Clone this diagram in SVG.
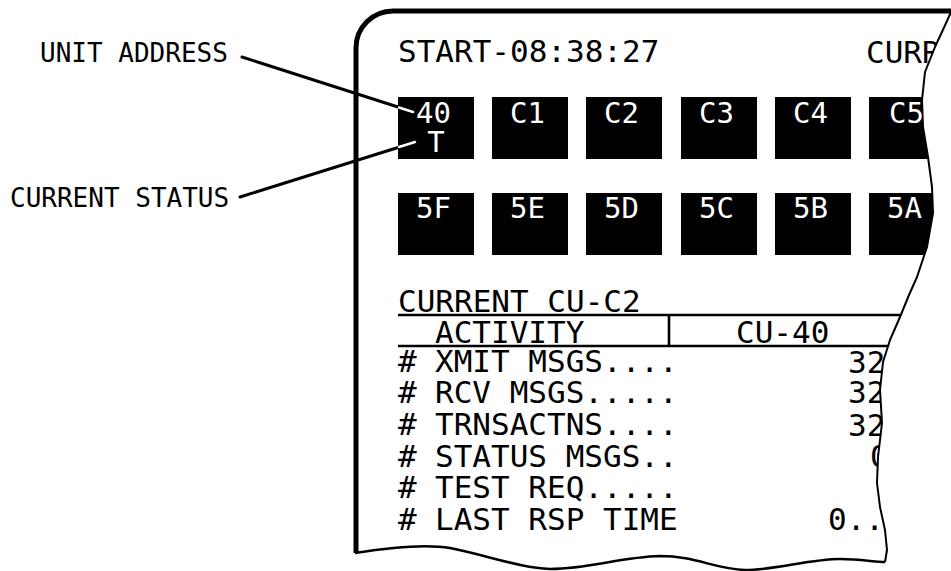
<svg xmlns="http://www.w3.org/2000/svg" width="951" height="571" viewBox="0 0 951 571">
<style>
.mono{font-family:"DejaVu Sans Mono","Liberation Mono",monospace;}
.scr{font-size:31px;fill:#000;}
.lbl{font-size:26px;fill:#000;}
.bx{fill:#000;}
.bt{font-size:29px;fill:#fff;}
.tl{stroke:#000;stroke-width:2.6;fill:none;}
.ld{stroke:#000;stroke-width:3;fill:none;stroke-linecap:round;}
.ldw{stroke:#fff;stroke-width:2.5;fill:none;stroke-linecap:round;}
</style>
<defs>
<clipPath id="tear">
<path d="M0,0 H951 V12 L947,21 L935,47 L925,72 L922,100 L923,127 L928,157 L932,187 L933,213 L927,247 L917,277 L909,295 L900,317 L890,340 L883,362 L880,390 L882,423 L878,457 L877,483 L880,507 L885,530 L887,550 L885,562 L885,571 H0 Z"/>
</clipPath>
</defs>
<rect width="951" height="571" fill="#fff"/>
<g id="frame">
<path d="M356,553 V48 A37,37 0 0 1 393,11 H951" fill="none" stroke="#000" stroke-width="5"/>
<path d="M355,553 C380,549 420,543 450,548 C490,556 520,568 550,569 C590,569 620,557 660,556 C695,556 715,569 745,570 C775,570 810,559 840,559 C860,559 875,562 885,562" fill="none" stroke="#000" stroke-width="2.5"/>
<path d="M951,12 L947,21 L935,47 L925,72 L922,100 L923,127 L928,157 L932,187 L933,213 L927,247 L917,277 L909,295 L900,317 L890,340 L883,362 L880,390 L882,423 L878,457 L877,483 L880,507 L885,530 L887,550 L885,562" fill="none" stroke="#000" stroke-width="2" stroke-linejoin="round"/>
</g>
<g id="screen" clip-path="url(#tear)">
<text class="mono scr" x="398" y="62">START-08:38:27</text>
<text class="mono scr" x="866" y="63">CURR</text>
<g id="unit-40"><rect class="bx" x="398" y="97" width="76" height="62"/><text class="mono bt" x="416" y="123">40</text><text class="mono bt" x="436" y="152" text-anchor="middle">T</text></g>
<g id="unit-C1"><rect class="bx" x="492" y="97" width="76" height="62"/><text class="mono bt" x="510" y="123">C1</text></g>
<g id="unit-C2"><rect class="bx" x="586" y="97" width="76" height="62"/><text class="mono bt" x="604" y="123">C2</text></g>
<g id="unit-C3"><rect class="bx" x="681" y="97" width="76" height="62"/><text class="mono bt" x="699" y="123">C3</text></g>
<g id="unit-C4"><rect class="bx" x="775" y="97" width="76" height="62"/><text class="mono bt" x="793" y="123">C4</text></g>
<g id="unit-C5"><rect class="bx" x="869" y="97" width="76" height="62"/><text class="mono bt" x="889" y="123">C5</text></g>
<g id="unit-5F"><rect class="bx" x="398" y="193" width="76" height="62"/><text class="mono bt" x="416" y="218">5F</text></g>
<g id="unit-5E"><rect class="bx" x="492" y="193" width="76" height="62"/><text class="mono bt" x="510" y="218">5E</text></g>
<g id="unit-5D"><rect class="bx" x="586" y="193" width="76" height="62"/><text class="mono bt" x="604" y="218">5D</text></g>
<g id="unit-5C"><rect class="bx" x="681" y="193" width="76" height="62"/><text class="mono bt" x="699" y="218">5C</text></g>
<g id="unit-5B"><rect class="bx" x="775" y="193" width="76" height="62"/><text class="mono bt" x="793" y="218">5B</text></g>
<g id="unit-5A"><rect class="bx" x="869" y="193" width="76" height="62"/><text class="mono bt" x="887" y="218">5A</text></g>
<g id="table">
<text class="mono scr" x="398" y="312">CURRENT CU-C2</text>
<line class="tl" x1="398" y1="315" x2="951" y2="315"/>
<line class="tl" x1="398" y1="346" x2="951" y2="346"/>
<line class="tl" x1="669" y1="315" x2="669" y2="346"/>
<text class="mono scr" x="435" y="343">ACTIVITY</text>
<text class="mono scr" x="736" y="343">CU-40</text>
<text class="mono scr" x="398" y="372">#</text><text class="mono scr" x="435" y="372">XMIT MSGS....</text><text class="mono scr" x="848" y="373">32</text>
<text class="mono scr" x="398" y="403">#</text><text class="mono scr" x="435" y="403">RCV MSGS.....</text><text class="mono scr" x="848" y="403">32</text>
<text class="mono scr" x="398" y="435">#</text><text class="mono scr" x="435" y="435">TRNSACTNS....</text><text class="mono scr" x="848" y="436">32</text>
<text class="mono scr" x="398" y="467">#</text><text class="mono scr" x="435" y="467">STATUS MSGS..</text><text class="mono scr" x="870" y="467">0</text>
<text class="mono scr" x="398" y="498">#</text><text class="mono scr" x="435" y="498">TEST REQ.....</text>
<text class="mono scr" x="398" y="530">#</text><text class="mono scr" x="435" y="530">LAST RSP TIME</text><text class="mono scr" x="828" y="530">0..</text>
</g>
</g>
<g id="label-unit-address"><text class="mono lbl" x="40" y="62">UNIT ADDRESS</text></g>
<g id="label-current-status"><text class="mono lbl" x="10" y="207">CURRENT STATUS</text></g>
<g id="connectors">
<line class="ld" x1="242" y1="57" x2="398" y2="107"/>
<line class="ldw" x1="399" y1="107.5" x2="413" y2="112"/>
<line class="ld" x1="240" y1="197" x2="398" y2="147.5"/>
<line class="ldw" x1="399" y1="147" x2="415" y2="142"/>
</g>
</svg>
